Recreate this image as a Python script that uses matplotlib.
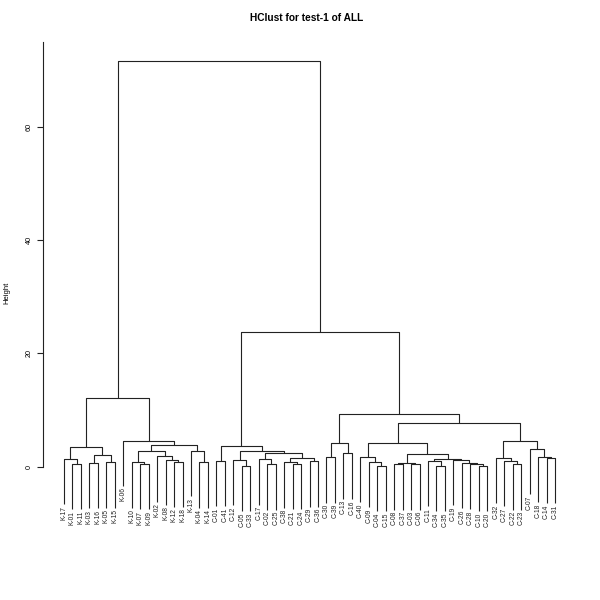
import matplotlib
matplotlib.use("Agg")
import matplotlib.pyplot as plt

plt.rcParams['font.family'] = ['Liberation Sans', 'DejaVu Sans']

title = "HClust for test-1 of ALL"
y_label = "Height"
y_ticks = [0, 20, 40, 60]

# merges: left child, right child, height (str = leaf label, int = earlier merge index)
merge_left = [
    "K-01", "K-17", "K-03", "K-05", 2, 1,
    "K-07", "K-10", "K-12", "K-08", "K-02", 7, "K-04", "K-13", 11, "K-06", 5,
    "C-01", "C-05", "C-12", "C-02", "C-17", "C-21", "C-38", "C-29", 23, 21, 19, 17,
    "C-30", "C-13", 29, "C-04", "C-09", "C-40", "C-08", "C-03", 35, "C-34", "C-11",
    "C-10", "C-28", "C-26", "C-19", 39, 37, 34, "C-22", "C-27", "C-32", "C-14",
    "C-18", "C-07", 49, 46, 31, 28, 16,
]
merge_right = [
    "K-11", 0, "K-16", "K-15", 3, 4,
    "K-09", 6, "K-18", 8, 9, 10, "K-14", 12, 13, 14, 15,
    "C-41", "C-33", 18, "C-25", 20, "C-24", 22, "C-36", 24, 25, 26, 27,
    "C-39", "C-16", 30, "C-15", 32, 33, "C-37", "C-06", 36, "C-35", 38,
    "C-20", 40, 41, 42, 43, 44, 45, "C-23", 47, 48, "C-31",
    50, 51, 52, 53, 54, 55, 56,
]
merge_height = [
    0.47, 1.35, 0.65, 0.77, 2.06, 3.5,
    0.47, 0.77, 0.88, 1.23, 1.85, 2.7, 0.77, 2.77, 3.8, 4.6, 12.2,
    1.05, 0.12, 1.2, 0.42, 1.3, 0.47, 0.77, 0.95, 1.5, 2.35, 2.8, 3.7,
    1.65, 2.35, 4.1, 0.12, 0.85, 1.76, 0.42, 0.42, 0.7, 0.2, 1.0,
    0.18, 0.53, 0.7, 1.2, 1.4, 2.24, 4.2, 0.42, 1.0, 1.6, 1.6,
    1.75, 3.2, 4.6, 7.8, 9.3, 23.8, 71.5,
]

fig = plt.figure(figsize=(6, 6), dpi=100)
ax = fig.add_axes([43/600, 1 - 540/600, 532/600, 498/600])

hang = 0.112 * max(merge_height)

# leaf order by traversal
order = []
def collect(node):
    if isinstance(node, str):
        order.append(node)
    else:
        collect(merge_left[node]); collect(merge_right[node])
root = len(merge_height) - 1
collect(root)
leaf_x = {lab: i + 1 for i, lab in enumerate(order)}

merge_x = {}
def xpos(node):
    if isinstance(node, str):
        return leaf_x[node]
    if node not in merge_x:
        merge_x[node] = (xpos(merge_left[node]) + xpos(merge_right[node])) / 2
    return merge_x[node]

lc = '#222222'
for m in range(len(merge_height)):
    h = merge_height[m]
    pts = []
    for child in (merge_left[m], merge_right[m]):
        cx = xpos(child)
        cy = (h - hang) if isinstance(child, str) else merge_height[child]
        pts.append((cx, cy))
    (x1, y1), (x2, y2) = pts
    ax.plot([x1, x1, x2, x2], [y1, h, h, y2], color=lc, lw=0.8, solid_capstyle='butt')
    for child, (cx, cy) in zip((merge_left[m], merge_right[m]), pts):
        if isinstance(child, str):
            ax.annotate(child, (cx, cy), xytext=(0, -1), textcoords='offset points',
                        rotation=90, ha='center', va='top', fontsize=4.8, color='#222222')

ax.set_xlim(-1.48, 61.36)
ax.set_ylim(-12.93, 74.94)
for s in ('top', 'right', 'bottom'):
    ax.spines[s].set_visible(False)
ax.spines['left'].set_bounds(0, 74.94)
ax.spines['left'].set_linewidth(0.8)
ax.spines['left'].set_color(lc)
ax.set_xticks([])
ax.set_yticks(y_ticks)
ax.set_yticklabels([str(t) for t in y_ticks], rotation=90, va='center', fontsize=5.2)
ax.tick_params(axis='y', length=4.3, width=0.8, pad=3, color=lc)

fig.text(7/600, 1 - 293/600, y_label, rotation=90, ha='center', va='center', fontsize=5.5)
fig.text(307/600, 1 - 18/600, title, ha='center', va='center', fontsize=7.3, fontweight='bold')

fig.savefig("out.png", dpi=100)
